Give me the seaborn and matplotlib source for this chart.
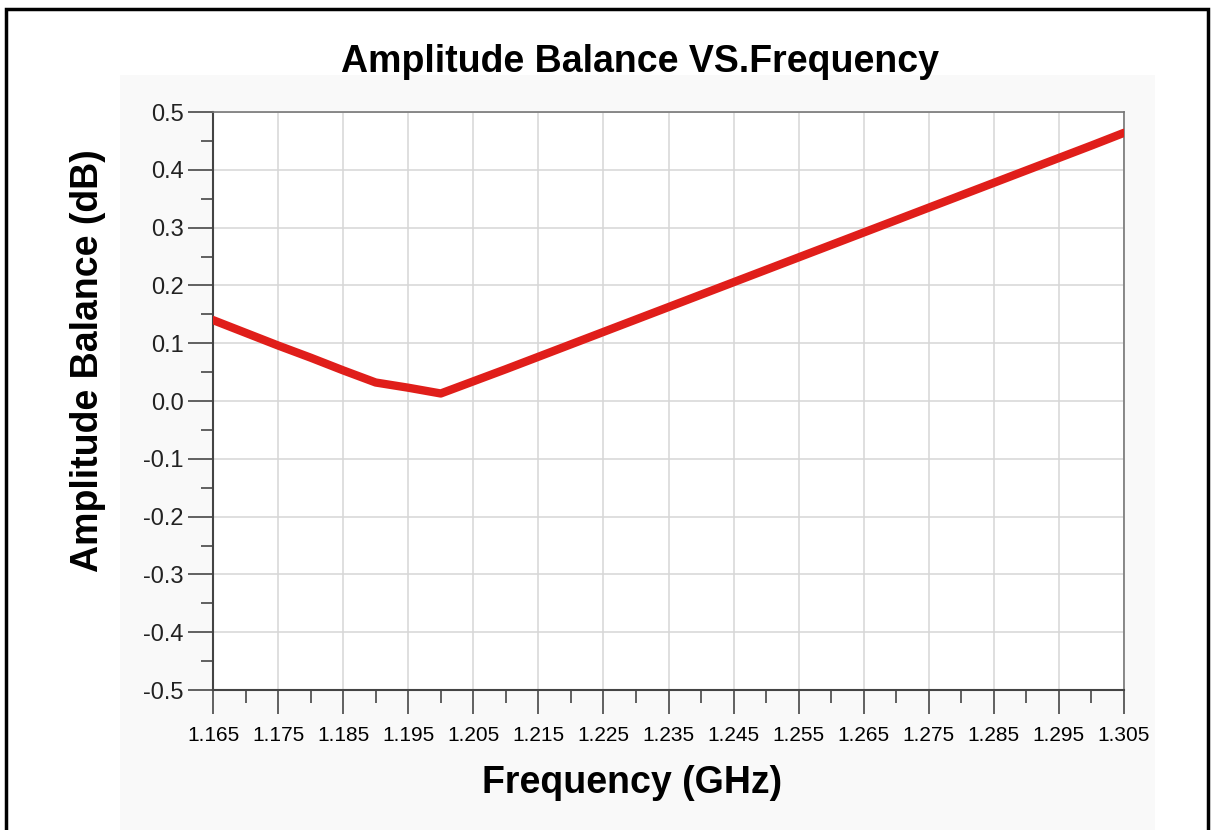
import matplotlib.pyplot as plt
import numpy as np
import pandas as pd
import seaborn as sns
from matplotlib.patches import Rectangle
from matplotlib.ticker import MultipleLocator

# data
freq_ghz = [1.165, 1.170, 1.175, 1.180, 1.185, 1.190, 1.195, 1.200,
            1.210, 1.220, 1.230, 1.240, 1.250, 1.260, 1.270, 1.280,
            1.290, 1.300, 1.305]
balance_db = [0.140, 0.118, 0.096, 0.075, 0.053, 0.032, 0.023, 0.013,
              0.055, 0.098, 0.141, 0.184, 0.227, 0.270, 0.313, 0.356,
              0.399, 0.442, 0.464]
x_ticks = [1.165, 1.175, 1.185, 1.195, 1.205, 1.215, 1.225, 1.235, 1.245,
           1.255, 1.265, 1.275, 1.285, 1.295, 1.305]
y_ticks = [-0.5, -0.4, -0.3, -0.2, -0.1, 0.0, 0.1, 0.2, 0.3, 0.4, 0.5]

df = pd.DataFrame({"freq": freq_ghz, "balance": balance_db})

sns.set_style("white")
plt.rcParams["font.family"] = ["Liberation Sans", "DejaVu Sans"]
plt.rcParams["text.color"] = "black"
plt.rcParams["axes.labelcolor"] = "black"
plt.rcParams["xtick.color"] = "black"
plt.rcParams["ytick.color"] = "black"

fig = plt.figure(figsize=(12.13, 8.3), dpi=100)
fig.patch.set_facecolor("white")

# faint grey panel and black frame like the original export
fig.patches.append(Rectangle((120 / 1213, -0.01), 1035 / 1213, 1 - 75 / 830 + 0.01,
                             transform=fig.transFigure, facecolor="#f9f9f9",
                             edgecolor="none", zorder=-2))
fig.patches.append(Rectangle((6 / 1213, -0.02), 1202 / 1213, 1 - 9 / 830 + 0.02,
                             transform=fig.transFigure, facecolor="none",
                             edgecolor="black", linewidth=2.5, zorder=-1))

ax = fig.add_axes([213 / 1213, 1 - 690 / 830, 911 / 1213, 578 / 830])
ax.set_facecolor("white")

sns.lineplot(data=df, x="freq", y="balance", ax=ax, color="#e01e1a",
             linewidth=6, solid_joinstyle="round", zorder=3)

ax.set_xlim(1.165, 1.305)
ax.set_ylim(-0.5, 0.5)
ax.set_xticks(x_ticks)
ax.set_xticklabels([f"{v:.3f}" for v in x_ticks])
ax.set_yticks(y_ticks)
ax.set_yticklabels([f"{v:.1f}" for v in y_ticks])
ax.xaxis.set_minor_locator(MultipleLocator(0.005))
ax.yaxis.set_minor_locator(MultipleLocator(0.05))

ax.grid(True, which="major", color="#d6d6d6", linewidth=1.1)
ax.tick_params(axis="x", which="major", bottom=True, direction="out", length=17,
               width=1.3, color="#555555", labelsize=15, pad=9, labelcolor="black")
ax.tick_params(axis="x", which="minor", bottom=True, direction="out", length=9,
               width=1.3, color="#555555")
ax.tick_params(axis="y", which="major", left=True, direction="out", length=18,
               width=1.3, color="#555555", labelsize=17, pad=3, labelcolor="#222222")
ax.tick_params(axis="y", which="minor", left=True, direction="out", length=9,
               width=1.3, color="#555555")
for side in ["left", "bottom"]:
    ax.spines[side].set_color("#444444")
    ax.spines[side].set_linewidth(1.5)
for side in ["top", "right"]:
    ax.spines[side].set_color("#777777")
    ax.spines[side].set_linewidth(1.2)

ax.set_xlabel("Frequency (GHz)", fontsize=27, fontweight="bold")
ax.xaxis.set_label_coords(0.46, -0.13)
ax.set_ylabel("Amplitude Balance (dB)", fontsize=27, fontweight="bold")
ax.yaxis.set_label_coords(-0.117, 0.569)
fig.text(0.528, 1 - 62 / 830, "Amplitude Balance VS.Frequency", fontsize=27,
         fontweight="bold", ha="center", va="center")

fig.savefig("out.png", dpi=100)
